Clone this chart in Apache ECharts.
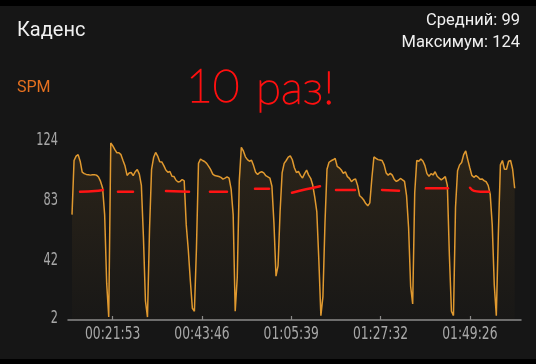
<!DOCTYPE html>
<html>
<head>
<meta charset="utf-8">
<script src="https://cdn.jsdelivr.net/npm/echarts@6/dist/echarts.min.js"></script>
<style>
  html, body { margin: 0; padding: 0; background: #000; }
  #chart { width: 536px; height: 364px; }
</style>
</head>
<body>
<div id="chart"></div>
<script>
// ---- data ----
const titleText = 'Каденс';
const unitText = 'SPM';
const summaryLines = ['Средний: 99', 'Максимум: 124'];
const annotationWords = ['10', 'раз!'];

const tickLabels = ['00:21:53', '00:43:46', '01:05:39', '01:27:32', '01:49:26'];
const yTickValues = [2, 42, 83, 124];

const startSec = 715;   // first sample time (s)
const stepSec = 30;     // sampling interval (s)
const cadence = [
  73, 110, 113, 114, 109.5, 102, 101, 100.5, 100.3, 100,
  100.3, 100.3, 100, 98.7, 95.7, 91.2, 73, 26, 3, 122,
  120, 117.4, 115.3, 115.3, 114, 110, 106.2, 99.8, 101.4, 101.8,
  99.7, 102.3, 103.8, 100.7, 93, 58, 14, 3, 63, 104,
  112, 115.5, 113, 109.2, 109, 106.5, 103.5, 102, 102.5, 99.2,
  99, 96.5, 95.3, 95.7, 97, 96, 66, 49, 28, 9,
  7, 50, 108, 111, 110, 109.3, 108, 106, 103.7, 100.7,
  99.7, 99.4, 99.1, 98.5, 97.3, 98, 98.8, 98, 90.5, 73,
  7, 30, 96, 119, 116.5, 112.5, 110.6, 109.5, 110.2, 106.5,
  102, 100.5, 101.8, 102.3, 101.5, 99.6, 98.8, 98, 92.4, 67,
  31, 38, 75, 101.5, 108, 110, 112.3, 113.2, 110.5, 105,
  101.8, 102.5, 99.8, 98, 101, 103.4, 100, 97.8, 93.2, 85,
  75, 42, 4, 17, 67, 104, 108.8, 109.8, 110.5, 111.4,
  106, 105, 103.5, 101.2, 102.3, 99, 97.8, 95.6, 96.8, 97.4,
  93, 85.9, 84.7, 83, 80.6, 79, 81, 98, 112.4, 111.5,
  110.6, 110.3, 110, 107, 101.5, 100, 101.2, 100, 97, 95.7,
  96.5, 97.7, 96.8, 95.7, 86, 64, 24, 12, 88, 110,
  109.5, 111, 109.7, 106.5, 101, 99.2, 101, 100.1, 102.3, 99.2,
  97.9, 96.8, 97.8, 99, 93, 45, 7, 4, 78, 103,
  107, 108.6, 114, 116.5, 110.6, 105, 99.8, 98.5, 99.6, 98.7,
  97.2, 97.4, 96.2, 95.5, 93, 87, 66, 25, 4, 60,
  107, 110, 104, 104, 109.5, 110, 104, 91
];

// hand-drawn red level marks: [time s, cadence]
const redMarks = [
  [[833, 88.7], [1053, 89.2], [1171, 89.9]],
  [[1391, 88.7], [1612, 88.7]],
  [[2097, 89.2], [2436, 88.7]],
  [[2744, 88.7], [2994, 88.7]],
  [[3406, 90.7], [3612, 90.7]],
  [[3950, 88.0], [4156, 90.3], [4362, 92.4]],
  [[4597, 89.8], [4877, 89.8]],
  [[5274, 89.9], [5524, 89.4]],
  [[5921, 91.0], [6244, 91.0]],
  [[6568, 91.4], [6627, 89.2], [6720, 88.7], [6847, 88.7]]
];

// ---- helpers ----
function toSec(s) {
  const p = s.split(':').map(Number);
  return p[0] * 3600 + p[1] * 60 + p[2];
}
const tickSecs = tickLabels.map(toSec);
const seriesData = cadence.map((v, i) => [startSec + i * stepSec, v]);
const lastSec = startSec + (cadence.length - 1) * stepSec;

const axisFont = "'DejaVu Sans Condensed', 'Liberation Sans Narrow', sans-serif";
const axisTextColor = '#a8a8a8';
const lineColor = '#e0992f';

const chart = echarts.init(document.getElementById('chart'), null, { renderer: 'canvas' });

const series = [{
  type: 'line',
  data: seriesData,
  showSymbol: false,
  smooth: false,
  lineStyle: { color: lineColor, width: 1.5 },
  itemStyle: { color: lineColor },
  areaStyle: {
    color: new echarts.graphic.LinearGradient(0, 0, 0, 1, [
      { offset: 0, color: 'rgba(215,150,50,0.16)' },
      { offset: 1, color: 'rgba(215,150,50,0.02)' }
    ])
  },
  z: 2
}];
redMarks.forEach(seg => series.push({
  type: 'line',
  data: seg,
  showSymbol: false,
  smooth: 0.4,
  lineStyle: { color: '#ff1414', width: 2.5, cap: 'round' },
  itemStyle: { color: '#ff1414' },
  z: 5,
  silent: true
}));

chart.setOption({
  backgroundColor: '#161616',
  animation: false,
  grid: { left: 68, right: 15, top: 140, bottom: 44, containLabel: false },
  xAxis: {
    type: 'value',
    min: startSec - 59,
    max: lastSec + 93,
    axisLine: { show: true, lineStyle: { color: '#8a8a8a', width: 1.5, cap: 'round' } },
    axisTick: { show: true, inside: true, length: 4, customValues: tickSecs, lineStyle: { color: '#8a8a8a', width: 1.2 } },
    axisLabel: { show: false },
    splitLine: { show: false }
  },
  yAxis: {
    type: 'value',
    min: 1,
    max: 124,
    axisLine: { show: false },
    axisTick: { show: false },
    splitLine: { show: false },
    axisLabel: { show: false }
  },
  series: series,
  graphic: [
    { id: 'barTop', type: 'rect', shape: { x: 0, y: 0, width: 536, height: 6 }, style: { fill: '#000' }, silent: true },
    { id: 'barBottom', type: 'rect', shape: { x: 0, y: 359, width: 536, height: 5 }, style: { fill: '#000' }, silent: true },
    { id: 'title', type: 'text', x: 17, y: 31, style: { text: titleText, fill: '#f0f0f0', font: '20px Roboto', textVerticalAlign: 'middle' } },
    { id: 'sum0', type: 'text', x: 520, y: 21, style: { text: summaryLines[0], fill: '#f0f0f0', font: '16.5px Roboto', textAlign: 'right', textVerticalAlign: 'middle' } },
    { id: 'sum1', type: 'text', x: 520, y: 43, style: { text: summaryLines[1], fill: '#f0f0f0', font: '16.5px Roboto', textAlign: 'right', textVerticalAlign: 'middle' } },
    { id: 'unit', type: 'text', x: 17, y: 88, style: { text: unitText, fill: '#e5701f', font: '16px Roboto', textVerticalAlign: 'middle' } },
    { id: 'note0', type: 'text', x: 186, y: 87, style: { text: annotationWords[0], fill: '#ff1010', stroke: '#ff1010', lineWidth: 1.3, font: '100 46px Lato', textVerticalAlign: 'middle' } },
    { id: 'note1', type: 'text', x: 256, y: 89, style: { text: annotationWords[1], fill: '#ff1010', stroke: '#ff1010', lineWidth: 1.3, font: '100 46px Lato', textVerticalAlign: 'middle' } }
  ]
});

// Axis tick labels in a condensed face, placed through the axes' own scales
const labelGraphics = [];
tickSecs.forEach((t, i) => {
  const px = chart.convertToPixel({ xAxisIndex: 0 }, t);
  labelGraphics.push({
    id: 'xl' + i, type: 'text', x: px, y: 334, scaleX: 0.76,
    style: { text: tickLabels[i], fill: axisTextColor, font: '18px ' + axisFont, textAlign: 'center', textVerticalAlign: 'middle' }
  });
});
yTickValues.forEach((v, i) => {
  const py = chart.convertToPixel({ yAxisIndex: 0 }, v);
  labelGraphics.push({
    id: 'yl' + i, type: 'text', x: 58, y: py, scaleX: 0.7,
    style: { text: String(v), fill: axisTextColor, font: '18px ' + axisFont, textAlign: 'right', textVerticalAlign: 'middle' }
  });
});
chart.setOption({ graphic: labelGraphics });
</script>
</body>
</html>
